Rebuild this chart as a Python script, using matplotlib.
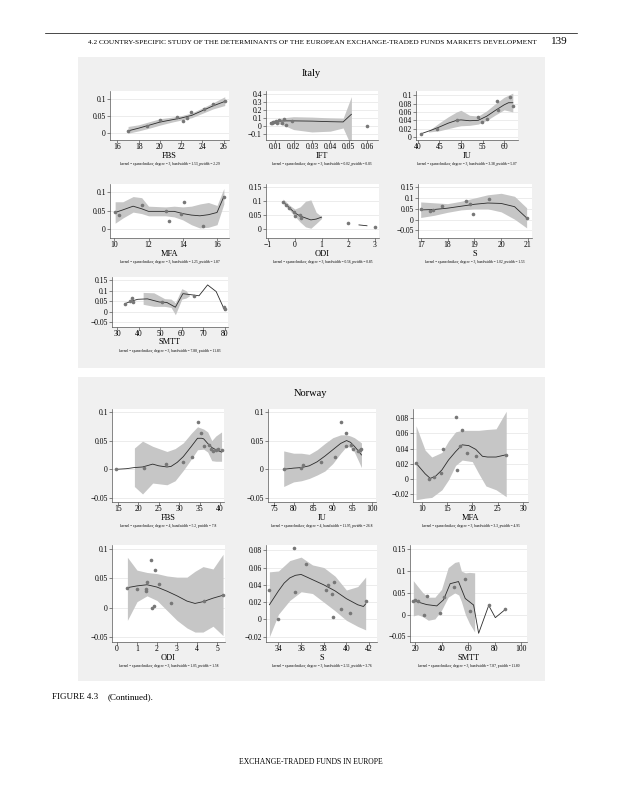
import numpy as np
import matplotlib.pyplot as plt
from matplotlib.patches import Rectangle
from matplotlib.lines import Line2D
from matplotlib.ticker import FuncFormatter

plt.rcParams['font.family'] = ['Liberation Serif', 'DejaVu Serif']

# ---------------- Italy ----------------
it_fbs_x = [17.0, 18.8, 20.0, 21.6, 22.2, 22.5, 22.9, 24.1, 25.0, 26.1]
it_fbs_y = [0.007, 0.020, 0.040, 0.047, 0.037, 0.044, 0.064, 0.073, 0.087, 0.096]
it_fbs_fx = [17, 18, 19, 20, 21, 22, 23, 24, 25, 26.1]
it_fbs_fit = [0.007, 0.015, 0.024, 0.033, 0.039, 0.045, 0.053, 0.067, 0.081, 0.094]
it_fbs_bx = [17, 18, 19, 20, 21, 22, 23, 24, 25, 26.1]
it_fbs_lo = [0.000, 0.007, 0.015, 0.024, 0.032, 0.039, 0.046, 0.059, 0.072, 0.082]
it_fbs_hi = [0.020, 0.025, 0.034, 0.043, 0.047, 0.052, 0.060, 0.075, 0.090, 0.108]

it_ift_x = [0.0075, 0.0080, 0.0090, 0.0095, 0.0105, 0.0110, 0.0120, 0.0135, 0.0150, 0.0160, 0.0190, 0.0600]
it_ift_y = [0.045, 0.040, 0.060, 0.050, 0.070, 0.045, 0.080, 0.040, 0.090, 0.020, 0.070, 0.010]
it_ift_fx = [0.0075, 0.009, 0.011, 0.013, 0.016, 0.020, 0.030, 0.040, 0.047, 0.0515]
it_ift_fit = [0.045, 0.055, 0.062, 0.066, 0.068, 0.068, 0.065, 0.058, 0.055, 0.150]
it_ift_bx = [0.0075, 0.009, 0.011, 0.013, 0.016, 0.020, 0.030, 0.040, 0.047, 0.0515]
it_ift_lo = [0.035, 0.040, 0.035, 0.025, 0.000, -0.040, -0.070, -0.060, -0.020, -0.250]
it_ift_hi = [0.060, 0.070, 0.085, 0.100, 0.110, 0.120, 0.115, 0.105, 0.100, 0.370]

it_iu_x = [40.8, 44.5, 49.0, 54.0, 54.8, 56.0, 58.3, 58.6, 61.3, 62.0]
it_iu_y = [0.008, 0.020, 0.040, 0.048, 0.036, 0.044, 0.086, 0.064, 0.095, 0.073]
it_iu_fx = [40.8, 43, 45, 47, 49, 50, 52, 54, 56, 58, 60, 61, 62]
it_iu_fit = [0.008, 0.016, 0.024, 0.033, 0.040, 0.041, 0.039, 0.040, 0.050, 0.064, 0.077, 0.082, 0.082]
it_iu_bx = [42.5, 45, 47, 49, 50, 52, 54, 56, 58, 60, 62]
it_iu_lo = [0.012, 0.015, 0.020, 0.025, 0.027, 0.028, 0.031, 0.040, 0.053, 0.065, 0.060]
it_iu_hi = [0.015, 0.034, 0.048, 0.060, 0.064, 0.052, 0.050, 0.063, 0.080, 0.095, 0.105]

it_mfa_x = [10.05, 10.3, 11.6, 13.0, 13.2, 13.9, 14.05, 15.2, 16.4]
it_mfa_y = [0.046, 0.038, 0.066, 0.049, 0.022, 0.042, 0.074, 0.009, 0.088]
it_mfa_fx = [10.05, 10.5, 11.1, 11.6, 12.0, 13.0, 13.5, 14.0, 14.5, 15.0, 15.5, 16.0, 16.4]
it_mfa_fit = [0.045, 0.052, 0.062, 0.055, 0.048, 0.048, 0.048, 0.042, 0.038, 0.036, 0.039, 0.045, 0.088]
it_mfa_bx = [10.05, 10.5, 11.1, 11.6, 12.0, 13.0, 13.5, 14.0, 14.5, 15.0, 15.5, 16.0, 16.4]
it_mfa_lo = [0.016, 0.030, 0.046, 0.042, 0.036, 0.036, 0.033, 0.025, 0.012, 0.003, 0.005, 0.012, 0.068]
it_mfa_hi = [0.074, 0.074, 0.088, 0.085, 0.062, 0.060, 0.062, 0.060, 0.062, 0.068, 0.072, 0.064, 0.110]

it_odi_x = [-0.44, -0.34, -0.22, -0.04, -0.01, 0.20, 0.22, 2.0, 3.0]
it_odi_y = [0.098, 0.088, 0.076, 0.062, 0.046, 0.050, 0.040, 0.022, 0.008]
it_odi_fx = [-0.44, -0.2, 0.0, 0.2, 0.4, 0.6, 0.8, 1.0]
it_odi_fit = [0.098, 0.076, 0.058, 0.047, 0.040, 0.033, 0.036, 0.043]
it_odi_fx2 = [2.4, 2.7]
it_odi_fit2 = [0.015, 0.012]
it_odi_bx = [-0.44, -0.2, 0.0, 0.2, 0.4, 0.6, 0.8, 1.0]
it_odi_lo = [0.092, 0.068, 0.046, 0.025, 0.008, 0.003, 0.020, 0.038]
it_odi_hi = [0.108, 0.086, 0.072, 0.080, 0.100, 0.105, 0.060, 0.045]

it_s_x = [17.0, 17.35, 17.45, 17.8, 18.7, 18.85, 18.95, 19.55, 20.95]
it_s_y = [0.049, 0.040, 0.046, 0.065, 0.087, 0.073, 0.024, 0.097, 0.008]
it_s_fx = [17.0, 17.5, 18.0, 18.5, 19.0, 19.5, 20.0, 20.5, 20.95]
it_s_fit = [0.045, 0.047, 0.053, 0.062, 0.071, 0.077, 0.075, 0.060, 0.008]
it_s_bx = [17.0, 17.5, 18.0, 18.5, 19.0, 19.5, 20.0, 20.5, 20.95]
it_s_lo = [0.010, 0.020, 0.034, 0.045, 0.050, 0.050, 0.036, 0.002, -0.038]
it_s_hi = [0.082, 0.078, 0.074, 0.085, 0.100, 0.115, 0.122, 0.108, 0.055]

it_smtt_x = [33.5, 36.0, 36.8, 37.3, 51.0, 65.8, 79.6, 80.0]
it_smtt_y = [0.037, 0.050, 0.066, 0.046, 0.045, 0.075, 0.021, 0.011]
it_smtt_fx = [33.5, 36.5, 39.5, 44.0, 49.5, 53.0, 57.0, 60.5, 63.5, 68.0, 72.0, 76.0, 80.0]
it_smtt_fit = [0.038, 0.050, 0.059, 0.061, 0.046, 0.044, 0.021, 0.086, 0.082, 0.076, 0.128, 0.096, 0.005]
it_smtt_bx = [42, 47, 52, 55, 57, 60, 62, 63.5]
it_smtt_lo = [0.035, 0.025, 0.025, 0.020, -0.015, 0.060, 0.065, 0.075]
it_smtt_hi = [0.092, 0.090, 0.062, 0.060, 0.042, 0.110, 0.100, 0.080]

# ---------------- Norway ----------------
no_fbs_x = [14.6, 21.4, 26.7, 31.0, 33.1, 34.6, 35.4, 36.2, 37.2, 37.7, 38.4, 39.0, 39.6, 40.4]
no_fbs_y = [0.000, 0.003, 0.009, 0.013, 0.021, 0.082, 0.064, 0.040, 0.043, 0.035, 0.032, 0.034, 0.036, 0.034]
no_fbs_fx = [14.6, 17, 19, 21, 23.5, 25, 27, 28, 29.5, 31, 33, 34.5, 35.5, 36, 37, 38, 39, 40.4]
no_fbs_fit = [0.000, 0.001, 0.003, 0.004, 0.009, 0.006, 0.004, 0.005, 0.012, 0.022, 0.040, 0.054,
              0.054, 0.053, 0.045, 0.038, 0.034, 0.030]
no_fbs_bx = [19, 21, 23.5, 27, 29, 31, 33, 34.5, 36, 37, 38, 39, 40.4]
no_fbs_lo = [-0.030, -0.043, -0.024, -0.027, -0.020, -0.002, 0.018, 0.034, 0.035, 0.030, 0.015, 0.014, 0.014]
no_fbs_hi = [0.037, 0.049, 0.040, 0.031, 0.036, 0.046, 0.063, 0.074, 0.070, 0.065, 0.050, 0.058, 0.065]

no_iu_x = [77.5, 81.9, 82.5, 86.9, 90.5, 92.0, 93.3, 93.4, 94.6, 95.1, 96.3, 96.8, 97.3]
no_iu_y = [0.000, 0.003, 0.008, 0.012, 0.021, 0.082, 0.064, 0.040, 0.043, 0.035, 0.031, 0.033, 0.035]
no_iu_fx = [77.5, 80, 82, 84, 86, 88, 90, 92, 93.5, 94.5, 95.5, 96.5, 97.3]
no_iu_fit = [0.000, 0.002, 0.003, 0.006, 0.013, 0.023, 0.034, 0.045, 0.050, 0.047, 0.040, 0.032, 0.025]
no_iu_bx = [77.5, 80, 82, 84, 86, 88, 90, 92, 93.5, 94.5, 95.5, 96.5, 97.3]
no_iu_lo = [-0.030, -0.022, -0.020, -0.016, -0.010, -0.003, 0.010, 0.028, 0.040, 0.038, 0.030, 0.015, 0.003]
no_iu_hi = [0.032, 0.028, 0.028, 0.026, 0.034, 0.045, 0.055, 0.060, 0.060, 0.058, 0.055, 0.050, 0.046]

no_mfa_x = [8.9, 11.5, 12.4, 13.8, 14.3, 16.8, 16.9, 17.9, 17.5, 19.0, 20.8, 26.7]
no_mfa_y = [0.021, 0.000, 0.003, 0.008, 0.040, 0.082, 0.012, 0.064, 0.043, 0.034, 0.030, 0.032]
no_mfa_fx = [8.9, 10.7, 11.7, 12.7, 14.0, 15.3, 16.7, 18.0, 19.3, 20.7, 22.0, 23.0, 24.7, 26.7]
no_mfa_fit = [0.021, 0.007, 0.001, 0.0035, 0.012, 0.025, 0.036, 0.045, 0.044, 0.039, 0.030, 0.029, 0.029, 0.032]
no_mfa_bx = [8.9, 10.7, 12.0, 14.0, 15.3, 16.7, 18.0, 20.0, 21.3, 22.7, 24.7, 26.7]
no_mfa_lo = [-0.027, -0.025, -0.024, -0.014, -0.001, 0.018, 0.025, 0.023, 0.007, -0.009, -0.014, -0.023]
no_mfa_hi = [0.070, 0.038, 0.029, 0.035, 0.050, 0.062, 0.064, 0.064, 0.064, 0.065, 0.066, 0.089]

no_odi_x = [0.52, 1.02, 1.47, 1.47, 1.52, 1.72, 1.77, 1.83, 1.88, 2.10, 2.72, 4.35, 5.30]
no_odi_y = [0.034, 0.032, 0.029, 0.032, 0.043, 0.082, 0.000, 0.002, 0.064, 0.040, 0.008, 0.012, 0.021]
no_odi_fx = [0.52, 1.0, 1.5, 2.0, 2.5, 3.0, 3.5, 3.9, 4.3, 4.8, 5.3]
no_odi_fit = [0.034, 0.037, 0.039, 0.035, 0.028, 0.020, 0.011, 0.007, 0.010, 0.016, 0.021]
no_odi_bx = [0.52, 1.0, 1.5, 2.0, 2.5, 3.0, 3.5, 3.9, 4.3, 4.8, 5.3]
no_odi_lo = [-0.022, 0.010, 0.020, 0.012, -0.005, -0.022, -0.035, -0.042, -0.042, -0.032, -0.048]
no_odi_hi = [0.086, 0.064, 0.060, 0.058, 0.054, 0.052, 0.052, 0.062, 0.070, 0.066, 0.091]

no_s_x = [33.2, 34.0, 35.4, 35.5, 36.4, 38.2, 38.4, 38.7, 38.8, 38.9, 39.5, 40.3, 41.7]
no_s_y = [0.034, 0.000, 0.082, 0.032, 0.064, 0.034, 0.040, 0.030, 0.003, 0.043, 0.012, 0.008, 0.021]
no_s_fx = [33.2, 34.0, 34.5, 35.0, 35.5, 36.0, 36.5, 37.0, 38.0, 39.0, 40.0, 41.0, 41.5, 41.7]
no_s_fit = [0.017, 0.033, 0.042, 0.048, 0.051, 0.052, 0.049, 0.046, 0.040, 0.033, 0.024, 0.017, 0.015, 0.018]
no_s_bx = [33.2, 34.0, 35.0, 36.0, 37.0, 38.0, 39.0, 40.0, 41.0, 41.7]
no_s_lo = [-0.020, 0.006, 0.022, 0.032, 0.030, 0.020, 0.010, -0.001, -0.008, -0.012]
no_s_hi = [0.055, 0.056, 0.068, 0.072, 0.063, 0.060, 0.050, 0.034, 0.038, 0.049]

no_smtt_x = [18.7, 20.0, 22.0, 27.0, 29.0, 38.5, 41.5, 49.7, 57.8, 61.3, 75.6, 88.2]
no_smtt_y = [0.031, 0.034, 0.032, 0.000, 0.043, 0.003, 0.040, 0.064, 0.081, 0.008, 0.021, 0.012]
no_smtt_fx = [18.7, 28.8, 36.4, 41.5, 46.5, 52.8, 57.9, 64.2, 68.0, 75.6, 80.6, 88.2]
no_smtt_fit = [0.032, 0.023, 0.020, 0.034, 0.071, 0.076, 0.037, 0.022, -0.043, 0.021, -0.007, 0.012]
no_smtt_bx = [18.7, 22, 26, 30, 35, 40, 45, 50, 53, 55, 58, 61, 65]
no_smtt_lo = [-0.003, 0.000, -0.005, -0.013, -0.010, 0.010, 0.040, 0.050, 0.045, 0.030, 0.000, -0.020, -0.040]
no_smtt_hi = [0.078, 0.065, 0.050, 0.040, 0.040, 0.058, 0.108, 0.120, 0.122, 0.100, 0.096, 0.097, 0.096]

KERNEL = 'kernel = epanechnikov, degree = {}, bandwidth = {}, pwidth = {}'

W, H = 625, 800
fig = plt.figure(figsize=(6.25, 8), dpi=100)
fig.patch.set_facecolor('white')


def fx(px):
    return px / W


def fy(py):
    return 1 - py / H


def fmt(v, pos):
    s = '%g' % round(v, 6)
    return s.replace('-', '\u2212')


def panel(box, pts, fits, band, xlim, ylim, xticks, yticks, xlabel, note):
    l, t, r, b = box
    ax = fig.add_axes([fx(l), fy(b), (r - l) / W, (b - t) / H])
    ax.set_facecolor('white')
    ax.fill_between(band[0], band[1], band[2], color='#c6c6c6', lw=0, zorder=1)
    for fxs, fys in fits:
        ax.plot(fxs, fys, color='#2b2b2b', lw=0.6, zorder=3)
    ax.plot(pts[0], pts[1], 'o', ms=2.6, color='#777777', mec='none', zorder=4)
    ax.set_xlim(*xlim)
    ax.set_ylim(*ylim)
    ax.set_xticks(xticks)
    ax.set_yticks(yticks)
    ax.xaxis.set_major_formatter(FuncFormatter(fmt))
    ax.yaxis.set_major_formatter(FuncFormatter(fmt))
    ax.yaxis.grid(True, color='#e4e4e4', lw=0.5)
    ax.set_axisbelow(True)
    for s in ['top', 'right']:
        ax.spines[s].set_visible(False)
    for s in ['left', 'bottom']:
        ax.spines[s].set_color('#555555')
        ax.spines[s].set_linewidth(0.5)
    ax.tick_params(labelsize=5.5, length=2, width=0.5, color='#555555')
    ax.tick_params(axis='x', pad=0.5)
    ax.tick_params(axis='y', pad=1)
    cx = (l + r) / 2
    fig.text(fx(cx), fy(b + 15.5), xlabel, ha='center', va='center', fontsize=6)
    fig.text(fx(cx), fy(b + 24), note, ha='center', va='center', fontsize=2.6)
    return ax


# page header
fig.add_artist(Line2D([fx(45), fx(577)], [fy(33), fy(33)], color='black', lw=0.5))
fig.text(fx(88), fy(42), '4.2 COUNTRY-SPECIFIC STUDY OF THE DETERMINANTS OF THE EUROPEAN '
         'EXCHANGE-TRADED FUNDS MARKETS DEVELOPMENT', ha='left', va='center', fontsize=5.2)
fig.text(fx(568), fy(41), '139', ha='right', va='center', fontsize=8)

# gray backgrounds of the combined graphs
fig.add_artist(Rectangle((fx(78), fy(368)), (545 - 78) / W, (368 - 57) / H,
                         transform=fig.transFigure, color='#f0f0f0', lw=0, zorder=0))
fig.add_artist(Rectangle((fx(78), fy(681)), (545 - 78) / W, (681 - 377) / H,
                         transform=fig.transFigure, color='#f0f0f0', lw=0, zorder=0))

fig.text(fx(311), fy(74), 'Italy', ha='center', va='center', fontsize=7.5)
fig.text(fx(311), fy(393), 'Norway', ha='center', va='center', fontsize=7.5)

# Italy
panel((110, 91, 229, 140), (it_fbs_x, it_fbs_y), [(it_fbs_fx, it_fbs_fit)],
      (it_fbs_bx, it_fbs_lo, it_fbs_hi), (15.3, 26.5), (-0.02, 0.125),
      [16, 18, 20, 22, 24, 26], [0, 0.05, 0.1], 'FBS', KERNEL.format(3, '1.53', '2.29'))
panel((266, 91, 378, 140), (it_ift_x, it_ift_y), [(it_ift_fx, it_ift_fit)],
      (it_ift_bx, it_ift_lo, it_ift_hi), (0.005, 0.066), (-0.17, 0.44),
      [0.01, 0.02, 0.03, 0.04, 0.05, 0.06], [-0.1, 0, 0.1, 0.2, 0.3, 0.4], 'IFT',
      KERNEL.format(3, '0.02', '0.03'))
panel((416, 91, 518, 140), (it_iu_x, it_iu_y), [(it_iu_fx, it_iu_fit)],
      (it_iu_bx, it_iu_lo, it_iu_hi), (39.6, 63.2), (-0.007, 0.11),
      [40, 45, 50, 55, 60], [0, 0.02, 0.04, 0.06, 0.08, 0.1], 'IU',
      KERNEL.format(3, '3.38', '5.07'))

panel((110, 184, 229, 238), (it_mfa_x, it_mfa_y), [(it_mfa_fx, it_mfa_fit)],
      (it_mfa_bx, it_mfa_lo, it_mfa_hi), (9.75, 16.7), (-0.024, 0.122),
      [10, 12, 14, 16], [0, 0.05, 0.1], 'MFA', KERNEL.format(3, '1.25', '1.87'))
panel((266, 184, 379, 238), (it_odi_x, it_odi_y),
      [(it_odi_fx, it_odi_fit), (it_odi_fx2, it_odi_fit2)],
      (it_odi_bx, it_odi_lo, it_odi_hi), (-1.08, 3.15), (-0.032, 0.162),
      [-1, 0, 1, 2, 3], [0, 0.05, 0.1, 0.15], 'ODI', KERNEL.format(3, '0.56', '0.85'))
panel((418, 184, 532, 238), (it_s_x, it_s_y), [(it_s_fx, it_s_fit)],
      (it_s_bx, it_s_lo, it_s_hi), (16.9, 21.15), (-0.085, 0.165),
      [17, 18, 19, 20, 21], [-0.05, 0, 0.05, 0.1, 0.15], 'S', KERNEL.format(3, '1.02', '1.53'))

panel((112, 277, 228, 327), (it_smtt_x, it_smtt_y), [(it_smtt_fx, it_smtt_fit)],
      (it_smtt_bx, it_smtt_lo, it_smtt_hi), (27.5, 81.5), (-0.074, 0.166),
      [30, 40, 50, 60, 70, 80], [-0.05, 0, 0.05, 0.1, 0.15], 'SMTT',
      KERNEL.format(3, '7.88', '11.83'))

# Norway
panel((112, 409, 224, 502), (no_fbs_x, no_fbs_y), [(no_fbs_fx, no_fbs_fit)],
      (no_fbs_bx, no_fbs_lo, no_fbs_hi), (13.5, 41.0), (-0.057, 0.105),
      [15, 20, 25, 30, 35, 40], [-0.05, 0, 0.05, 0.1], 'FBS', KERNEL.format(4, '5.2', '7.8'))
panel((268, 409, 376, 502), (no_iu_x, no_iu_y), [(no_iu_fx, no_iu_fit)],
      (no_iu_bx, no_iu_lo, no_iu_hi), (73.5, 101.0), (-0.057, 0.105),
      [75, 80, 85, 90, 95, 100], [-0.05, 0, 0.05, 0.1], 'IU', KERNEL.format(4, '11.95', '26.8'))
panel((413, 409, 528, 502), (no_mfa_x, no_mfa_y), [(no_mfa_fx, no_mfa_fit)],
      (no_mfa_bx, no_mfa_lo, no_mfa_hi), (8.3, 31.0), (-0.03, 0.092),
      [10, 15, 20, 25, 30], [-0.02, 0, 0.02, 0.04, 0.06, 0.08], 'MFA',
      KERNEL.format(3, '3.3', '4.95'))

panel((112, 545, 225, 642), (no_odi_x, no_odi_y), [(no_odi_fx, no_odi_fit)],
      (no_odi_bx, no_odi_lo, no_odi_hi), (-0.25, 5.4), (-0.059, 0.107),
      [0, 1, 2, 3, 4, 5], [-0.05, 0, 0.05, 0.1], 'ODI', KERNEL.format(3, '1.05', '1.58'))
panel((266, 545, 377, 642), (no_s_x, no_s_y), [(no_s_fx, no_s_fit)],
      (no_s_bx, no_s_lo, no_s_hi), (32.9, 42.7), (-0.026, 0.086),
      [34, 36, 38, 40, 42], [-0.02, 0, 0.02, 0.04, 0.06, 0.08], 'S',
      KERNEL.format(3, '2.51', '3.76'))
panel((410, 545, 527, 642), (no_smtt_x, no_smtt_y), [(no_smtt_fx, no_smtt_fit)],
      (no_smtt_bx, no_smtt_lo, no_smtt_hi), (16.2, 104.5), (-0.063, 0.16),
      [20, 40, 60, 80, 100], [-0.05, 0, 0.05, 0.1, 0.15], 'SMTT',
      KERNEL.format(3, '7.87', '11.80'))

# caption and footer
fig.text(fx(52), fy(697), 'FIGURE 4.3', ha='left', va='center', fontsize=6.5)
fig.text(fx(108), fy(697), '(Continued).', ha='left', va='center', fontsize=6.5)
fig.text(fx(311), fy(762), 'EXCHANGE-TRADED FUNDS IN EUROPE', ha='center', va='center', fontsize=5.5)

fig.savefig('out.png', dpi=100)
